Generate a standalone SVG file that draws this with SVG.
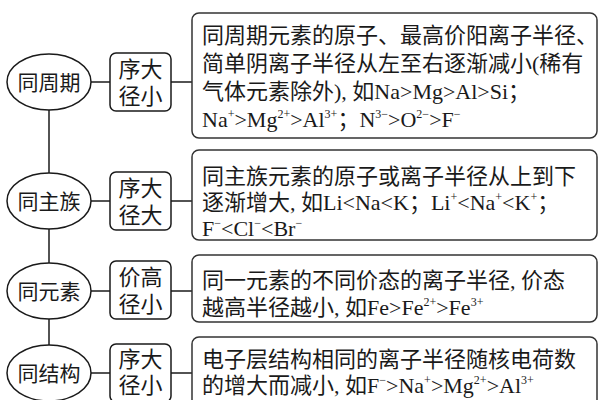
<svg xmlns="http://www.w3.org/2000/svg" width="599" height="400" viewBox="0 0 599 400">
<style>
text{font-family:"Liberation Serif","Noto Sans CJK SC",serif;fill:#1a1a1a;font-size:22px}
.el{fill:#fff;stroke:#1a1a1a;stroke-width:1.5}
.sb{fill:#fff;stroke:#1a1a1a;stroke-width:1.5}
.bb{fill:#fff;stroke:#333;stroke-width:1.5}
.cn{stroke:#1a1a1a;stroke-width:1.5;fill:none}
.et{font-size:21px;text-anchor:middle}
.st{text-anchor:middle}
.sup{font-size:12px}
</style>
<rect width="599" height="400" fill="#fff"/>
<g id="connectors">
<line class="cn" x1="49" y1="100" x2="49" y2="360"/>
<line class="cn" x1="91" y1="82" x2="192" y2="82"/>
<line class="cn" x1="91" y1="201" x2="192" y2="201"/>
<line class="cn" x1="91" y1="291" x2="192" y2="291"/>
<line class="cn" x1="91" y1="373" x2="192" y2="373"/>
</g>
<g id="n1">
<ellipse class="el" cx="49" cy="82" rx="42" ry="28"/>
<text class="et" x="49" y="90">同周期</text>
</g>
<g id="n1b">
<rect class="sb" x="110" y="53" width="61" height="58" rx="6"/>
<text class="st" x="140.5" y="77">序大</text>
<text class="st" x="140.5" y="104">径小</text>
</g>
<g id="n1c">
<rect class="bb" x="192" y="13" width="405" height="125" rx="7"/>
<text x="202" y="43">同周期元素的原子、最高价阳离子半径、</text>
<text x="202" y="71">简单阴离子半径从左至右逐渐减小(稀有</text>
<text x="202" y="99">气体元素除外), 如Na&gt;Mg&gt;Al&gt;Si；</text>
<text x="202" y="127">Na<tspan class="sup" dy="-9">+</tspan><tspan dy="9">&gt;Mg</tspan><tspan class="sup" dy="-9">2+</tspan><tspan dy="9">&gt;Al</tspan><tspan class="sup" dy="-9">3+</tspan><tspan dy="9">；N</tspan><tspan class="sup" dy="-9">3−</tspan><tspan dy="9">&gt;O</tspan><tspan class="sup" dy="-9">2−</tspan><tspan dy="9">&gt;F</tspan><tspan class="sup" dy="-9">−</tspan></text>
</g>
<g id="n2">
<ellipse class="el" cx="49" cy="201" rx="42" ry="28"/>
<text class="et" x="49" y="209">同主族</text>
</g>
<g id="n2b">
<rect class="sb" x="110" y="172" width="61" height="58" rx="6"/>
<text class="st" x="140.5" y="196">序大</text>
<text class="st" x="140.5" y="223">径大</text>
</g>
<g id="n2c">
<rect class="bb" x="192" y="150" width="405" height="90" rx="7"/>
<text x="202" y="184">同主族元素的原子或离子半径从上到下</text>
<text x="202" y="210">逐渐增大, 如Li&lt;Na&lt;K；Li<tspan class="sup" dy="-9">+</tspan><tspan dy="9">&lt;Na</tspan><tspan class="sup" dy="-9">+</tspan><tspan dy="9">&lt;K</tspan><tspan class="sup" dy="-9">+</tspan><tspan dy="9">；</tspan></text>
<text x="202" y="236">F<tspan class="sup" dy="-9">−</tspan><tspan dy="9">&lt;Cl</tspan><tspan class="sup" dy="-9">−</tspan><tspan dy="9">&lt;Br</tspan><tspan class="sup" dy="-9">−</tspan></text>
</g>
<g id="n3">
<ellipse class="el" cx="49" cy="291" rx="42" ry="28"/>
<text class="et" x="49" y="299">同元素</text>
</g>
<g id="n3b">
<rect class="sb" x="110" y="261" width="61" height="58" rx="6"/>
<text class="st" x="140.5" y="285">价高</text>
<text class="st" x="140.5" y="312">径小</text>
</g>
<g id="n3c">
<rect class="bb" x="192" y="255" width="405" height="67" rx="7"/>
<text x="202" y="288">同一元素的不同价态的离子半径, 价态</text>
<text x="202" y="315">越高半径越小, 如Fe&gt;Fe<tspan class="sup" dy="-9">2+</tspan><tspan dy="9">&gt;Fe</tspan><tspan class="sup" dy="-9">3+</tspan></text>
</g>
<g id="n4">
<ellipse class="el" cx="49" cy="373" rx="42" ry="28"/>
<text class="et" x="49" y="381">同结构</text>
</g>
<g id="n4b">
<rect class="sb" x="110" y="344" width="61" height="58" rx="6"/>
<text class="st" x="140.5" y="367">序大</text>
<text class="st" x="140.5" y="393">径小</text>
</g>
<g id="n4c">
<rect class="bb" x="192" y="337" width="405" height="70" rx="7"/>
<text x="202" y="367">电子层结构相同的离子半径随核电荷数</text>
<text x="202" y="393">的增大而减小, 如F<tspan class="sup" dy="-9">−</tspan><tspan dy="9">&gt;Na</tspan><tspan class="sup" dy="-9">+</tspan><tspan dy="9">&gt;Mg</tspan><tspan class="sup" dy="-9">2+</tspan><tspan dy="9">&gt;Al</tspan><tspan class="sup" dy="-9">3+</tspan></text>
</g>
</svg>
